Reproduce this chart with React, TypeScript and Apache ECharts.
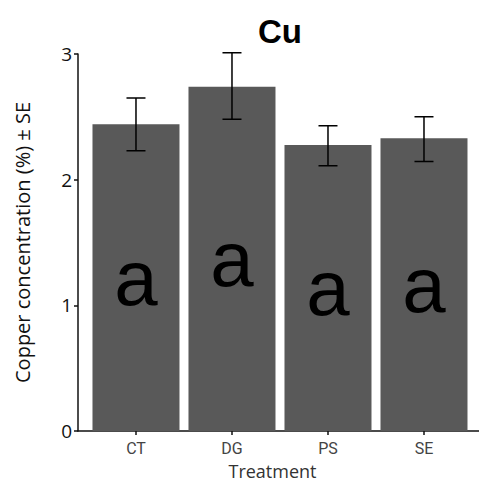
import React, { useEffect, useRef } from "react";
import * as echarts from "echarts";

const categories = ["CT", "DG", "PS", "SE"];
const means = [2.44, 2.74, 2.275, 2.33];
const seLow = [2.23, 2.48, 2.11, 2.145];
const seHigh = [2.65, 3.01, 2.43, 2.5];
const letters = ["a", "a", "a", "a"];
const yTicks = [0, 1, 2, 3];

export default function App() {
  const ref = useRef<HTMLDivElement>(null);
  useEffect(() => {
    if (!ref.current) return;
    const chart = echarts.init(ref.current, null, { renderer: "svg" });
    const idx = categories.map((_, i) => i);
    chart.setOption({
      animation: false,
      backgroundColor: "#ffffff",
      graphic: [
        {
          type: "text",
          x: 280,
          y: 31.5,
          style: {
            text: "Cu",
            font: "bold 33px 'Liberation Sans', Arial, sans-serif",
            fill: "#000",
            textAlign: "center",
            textVerticalAlign: "middle",
          },
        },
      ],
      grid: { left: 78, right: 0, top: 54, bottom: 54 },
      xAxis: {
        type: "value",
        min: -0.604,
        max: 3.573,
        splitLine: { show: false },
        axisLine: { show: true, onZero: false, lineStyle: { color: "#111", width: 1.5 } },
        axisTick: {
          show: true,
          customValues: idx,
          length: 4,
          lineStyle: { color: "#111", width: 1.5 },
        },
        axisLabel: {
          customValues: idx,
          formatter: (v: number) => categories[Math.round(v)] ?? "",
          fontFamily: "Roboto, 'Liberation Sans', sans-serif",
          fontSize: 16,
          color: "#444",
          margin: 9,
        },
        name: "Treatment",
        nameLocation: "middle",
        nameGap: 31,
        nameTextStyle: {
          fontFamily: "'Open Sans', sans-serif",
          fontSize: 18,
          color: "#333",
          padding: [0, 12, 0, 0],
        },
      },
      yAxis: {
        type: "value",
        min: 0,
        max: 3,
        interval: 1,
        splitLine: { show: false },
        axisLine: { show: true, onZero: false, lineStyle: { color: "#111", width: 1.5 } },
        axisTick: { show: true, length: 4, lineStyle: { color: "#111", width: 1.5 } },
        axisLabel: {
          formatter: (v: number) => (yTicks.includes(v) ? String(v) : ""),
          fontFamily: "'Open Sans', sans-serif",
          fontSize: 19,
          color: "#111",
          margin: 6,
        },
        name: "Copper concentration (%) ± SE",
        nameLocation: "middle",
        nameGap: 46,
        nameTextStyle: {
          fontFamily: "'Open Sans', sans-serif",
          fontSize: 20,
          color: "#111",
        },
      },
      series: [
        {
          type: "bar",
          data: means.map((m, i) => [i, m]),
          barWidth: 87,
          itemStyle: { color: "#595959" },
          label: {
            show: true,
            position: "inside",
            formatter: (p: any) => letters[p.dataIndex],
            fontFamily: "'Liberation Sans', Arial, sans-serif",
            fontSize: 78,
            color: "#000",
          },
        },
        {
          type: "custom",
          clip: false,
          encode: { x: 0, y: [1, 2] },
          data: idx.map((i) => [i, seLow[i], seHigh[i]]),
          renderItem: (params: any, api: any) => {
            const x = api.value(0);
            const lo = api.coord([x, api.value(1)]);
            const hi = api.coord([x, api.value(2)]);
            const hw = 9.5;
            return {
              type: "polyline",
              shape: {
                points: [
                  [lo[0] - hw, lo[1]],
                  [lo[0] + hw, lo[1]],
                  [lo[0], lo[1]],
                  [hi[0], hi[1]],
                  [hi[0] - hw, hi[1]],
                  [hi[0] + hw, hi[1]],
                ],
              },
              style: { stroke: "#000", lineWidth: 1.5, fill: null },
            };
          },
          z: 5,
        },
      ],
    });
    return () => chart.dispose();
  }, []);
  return <div ref={ref} style={{ width: 479, height: 485, position: "absolute", left: 0, top: 0 }} />;
}
